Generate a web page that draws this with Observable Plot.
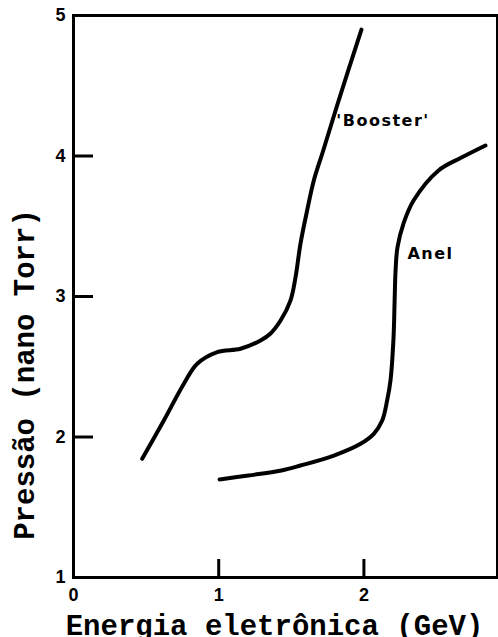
<!DOCTYPE html>
<html><head><meta charset="utf-8">
<script src="https://cdn.jsdelivr.net/npm/d3@7"></script>
<script src="https://cdn.jsdelivr.net/npm/@observablehq/plot@0.6"></script>
<style>body{margin:0;background:#fff}</style>
</head><body><div id="chart"></div>
<script>
// Booster curve (GeV, nano Torr)
const boosterX = [0.473, 0.622, 0.760, 0.852, 0.990, 1.150, 1.288, 1.357, 1.426, 1.494, 1.529, 1.563, 1.609, 1.655, 1.720, 1.811, 1.983];
const boosterY = [1.845, 2.117, 2.379, 2.521, 2.604, 2.628, 2.687, 2.737, 2.829, 2.971, 3.137, 3.375, 3.612, 3.826, 4.039, 4.345, 4.900];
// Anel (storage ring) curve
const anelX = [1.006, 1.205, 1.432, 1.563, 1.793, 1.977, 2.068, 2.126, 2.160, 2.183, 2.204, 2.211, 2.218, 2.231, 2.273, 2.342, 2.514, 2.672, 2.837];
const anelY = [1.698, 1.726, 1.762, 1.797, 1.868, 1.952, 2.023, 2.117, 2.260, 2.402, 2.708, 2.950, 3.185, 3.349, 3.520, 3.683, 3.897, 3.989, 4.075];
const xTicks = [0, 1, 2, 3];
const yTicks = [1, 2, 3, 4, 5];
const curveLabels = ["'Booster'", "Anel"];
const curveLabelX = [1.81, 2.30];
const curveLabelY = [4.25, 3.30];
const xTitle = "Energia eletrônica (GeV)";
const yTitle = "Pressão (nano Torr)";

const booster = boosterX.map((x, i) => ({x, y: boosterY[i]}));
const anel = anelX.map((x, i) => ({x, y: anelY[i]}));
const labels = curveLabels.map((t, i) => ({t, x: curveLabelX[i], y: curveLabelY[i]}));

const sans = "Liberation Sans, Arial, sans-serif";
const wide = "DejaVu Sans, Verdana, sans-serif";
const mono = "Liberation Mono, Courier New, monospace";
const W = 498, H = 637, ML = 73, MR = 1, MT = 15, MB = 60;
const frameW = W - ML - MR, frameH = H - MT - MB;
const xMax = 2.92;

const chart = Plot.plot({
  width: W, height: H,
  marginLeft: ML, marginRight: MR, marginTop: MT, marginBottom: MB,
  x: {domain: [0, xMax], ticks: xTicks, tickSize: 0, tickPadding: 11, tickFormat: d => String(d), label: null},
  y: {domain: [1, 5], ticks: yTicks, tickSize: 0, tickPadding: 8, tickFormat: d => String(d), label: null},
  style: {background: "white", color: "black", fontFamily: sans, fontSize: "18px", fontWeight: "bold"},
  marks: [
    // inward ticks
    Plot.tickX(xTicks.filter(d => d <= xMax), {x: d => d, insetTop: frameH - 18, stroke: "black", strokeWidth: 3}),
    Plot.tickY(yTicks, {y: d => d, insetRight: frameW - 20, stroke: "black", strokeWidth: 3}),
    Plot.frame({stroke: "black", strokeWidth: 3}),
    Plot.line(booster, {x: "x", y: "y", curve: "catmull-rom", stroke: "black", strokeWidth: 4, strokeLinecap: "round"}),
    Plot.line(anel, {x: "x", y: "y", curve: "catmull-rom", stroke: "black", strokeWidth: 4, strokeLinecap: "round"}),
    Plot.text(labels, {x: "x", y: "y", text: "t", textAnchor: "start", lineAnchor: "middle", fontSize: 16, fontWeight: "bold", fontFamily: wide, fill: "black"}),
    Plot.text([xTitle], {text: d => d, frameAnchor: "bottom", textAnchor: "middle", lineAnchor: "middle", dx: -11, dy: 48, fontSize: 29, fontWeight: "bold", fontFamily: mono, fill: "black"}),
    Plot.text([yTitle], {text: d => d, frameAnchor: "left", textAnchor: "middle", lineAnchor: "middle", rotate: -90, dx: -49, dy: 78, fontSize: 29, fontWeight: "bold", fontFamily: mono, fill: "black"})
  ]
});
d3.select(chart).selectAll('g[aria-label="text"][font-size="16"] text').style("letter-spacing", "1.5px");
document.getElementById("chart").appendChild(chart);
</script>
</body></html>
